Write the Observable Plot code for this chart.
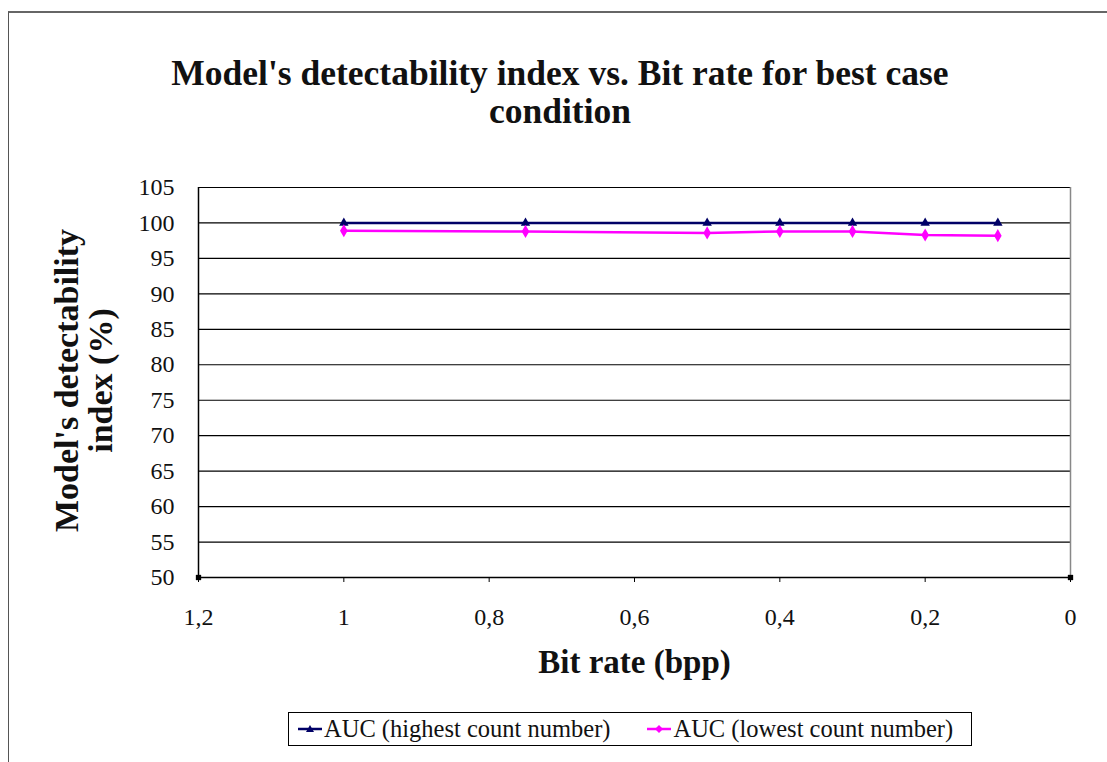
<!DOCTYPE html>
<html><head><meta charset="utf-8">
<script src="https://cdn.jsdelivr.net/npm/d3@7"></script>
<script src="https://cdn.jsdelivr.net/npm/@observablehq/plot@0.6"></script>
<style>
body{margin:0;background:#fff;font-family:"Liberation Serif","DejaVu Serif",serif;}
#frame{position:absolute;left:8px;top:11px;width:1120px;height:780px;border-left:1.5px solid #555;border-top:2px solid #666;}
#title{position:absolute;left:0;top:54px;width:1120px;text-align:center;font-weight:bold;font-size:35.5px;line-height:38px;color:#111;font-family:"Liberation Serif","DejaVu Serif",serif;}
#chart{position:absolute;left:0;top:170px;}
#legend{position:absolute;left:288px;top:712px;width:684px;height:34px;border:1px solid #000;box-sizing:border-box;display:flex;align-items:center;font-size:24.5px;font-family:"Liberation Serif","DejaVu Serif",serif;color:#111;}
#legend span{display:inline-flex;align-items:center;margin-left:8px;}
</style></head>
<body>
<div id="frame"></div>
<div id="title">Model's detectability index vs. Bit rate for best case<br>condition</div>
<div id="chart"></div>
<div id="legend"></div>
<script>
const bitRate = [1, 0.75, 0.5, 0.4, 0.3, 0.2, 0.1];
const aucHigh = [100, 100, 100, 100, 100, 100, 100];
const aucLow = [98.9, 98.8, 98.6, 98.8, 98.8, 98.3, 98.2];
const seriesNames = ["AUC (highest count number)", "AUC (lowest count number)"];
const seriesColors = ["#000066", "#ff00ff"];
const edgeX = [1.2, 0];
const edgeY = [50, 50];
const xTicks = [1.2, 1, 0.8, 0.6, 0.4, 0.2, 0];
const yTicks = [50, 55, 60, 65, 70, 75, 80, 85, 90, 95, 100, 105];

const high = bitRate.map((x, i) => ({x, y: aucHigh[i]}));
const low = bitRate.map((x, i) => ({x, y: aucLow[i]}));
const edges = edgeX.map((x, i) => ({x, y: edgeY[i]}));
const fmt = d => String(d).replace(".", ",");
const SERIF = "'Liberation Serif','DejaVu Serif',serif";

const plot = Plot.plot({
  width: 1107, height: 520,
  marginLeft: 198, marginRight: 37, marginTop: 17, marginBottom: 113,
  style: {fontFamily: SERIF, fontSize: "24px", background: "transparent", color: "#111", overflow: "visible"},
  x: {domain: [1.2, 0], ticks: xTicks, tickFormat: fmt, label: null},
  y: {domain: [50, 105], ticks: yTicks, label: null},
  marks: [
    Plot.ruleY(yTicks.filter(d => d > 50), {stroke: "#000", strokeWidth: 1.2}),
    Plot.ruleX([0], {stroke: "#888", strokeWidth: 1.5}),
    Plot.ruleX([1.2], {stroke: "#000", strokeWidth: 1.5}),
    Plot.ruleY([50], {stroke: "#000", strokeWidth: 1.5}),
    Plot.axisX({ticks: xTicks, tickFormat: fmt, tickSize: 5, tickPadding: 25, stroke: "#000", fontSize: 24, fontFamily: SERIF}),
    Plot.axisY({ticks: yTicks, tickSize: 0, tickPadding: 24, fontSize: 24, fontFamily: SERIF}),
    Plot.line(high, {x: "x", y: "y", stroke: seriesColors[0], strokeWidth: 2.5}),
    Plot.line(low, {x: "x", y: "y", stroke: seriesColors[1], strokeWidth: 2.5}),
    Plot.dot(high, {x: "x", y: "y", symbol: "triangle", fill: seriesColors[0], r: 3.5}),
    Plot.dot(low, {x: "x", y: "y", symbol: "diamond", fill: seriesColors[1], r: 4}),
    Plot.dot(edges, {x: "x", y: "y", symbol: "square", fill: "#000", r: 3}),
    Plot.text(["Bit rate (bpp)"], {frameAnchor: "bottom", dy: 95, fontSize: 33, fontWeight: "bold", fontFamily: SERIF}),
    Plot.text(["Model's detectability"], {frameAnchor: "left", textAnchor: "middle", dx: -131, dy: -2, rotate: -90, fontSize: 34, fontWeight: "bold", fontFamily: SERIF}),
    Plot.text(["index (%)"], {frameAnchor: "left", textAnchor: "middle", dx: -97, dy: -2, rotate: -90, fontSize: 34, fontWeight: "bold", fontFamily: SERIF})
  ]
});
document.getElementById("chart").appendChild(plot);

const legend = document.getElementById("legend");
const symbols = ["M0,-4L4,3L-4,3Z", "M0,-4L4,0L0,4L-4,0Z"];
seriesNames.forEach((name, i) => {
  const s = document.createElement("span");
  if (i === 1) s.style.marginLeft = "36px";
  s.innerHTML = `<svg width="26" height="12" viewBox="0 -6 26 12"><line x1="1" x2="25" y1="0" y2="0" stroke="${seriesColors[i]}" stroke-width="2.5"/><path transform="translate(13,0)" d="${symbols[i]}" fill="${seriesColors[i]}"/></svg><span style="margin-left:1px">${name}</span>`;
  legend.appendChild(s);
});
</script>
</body></html>
